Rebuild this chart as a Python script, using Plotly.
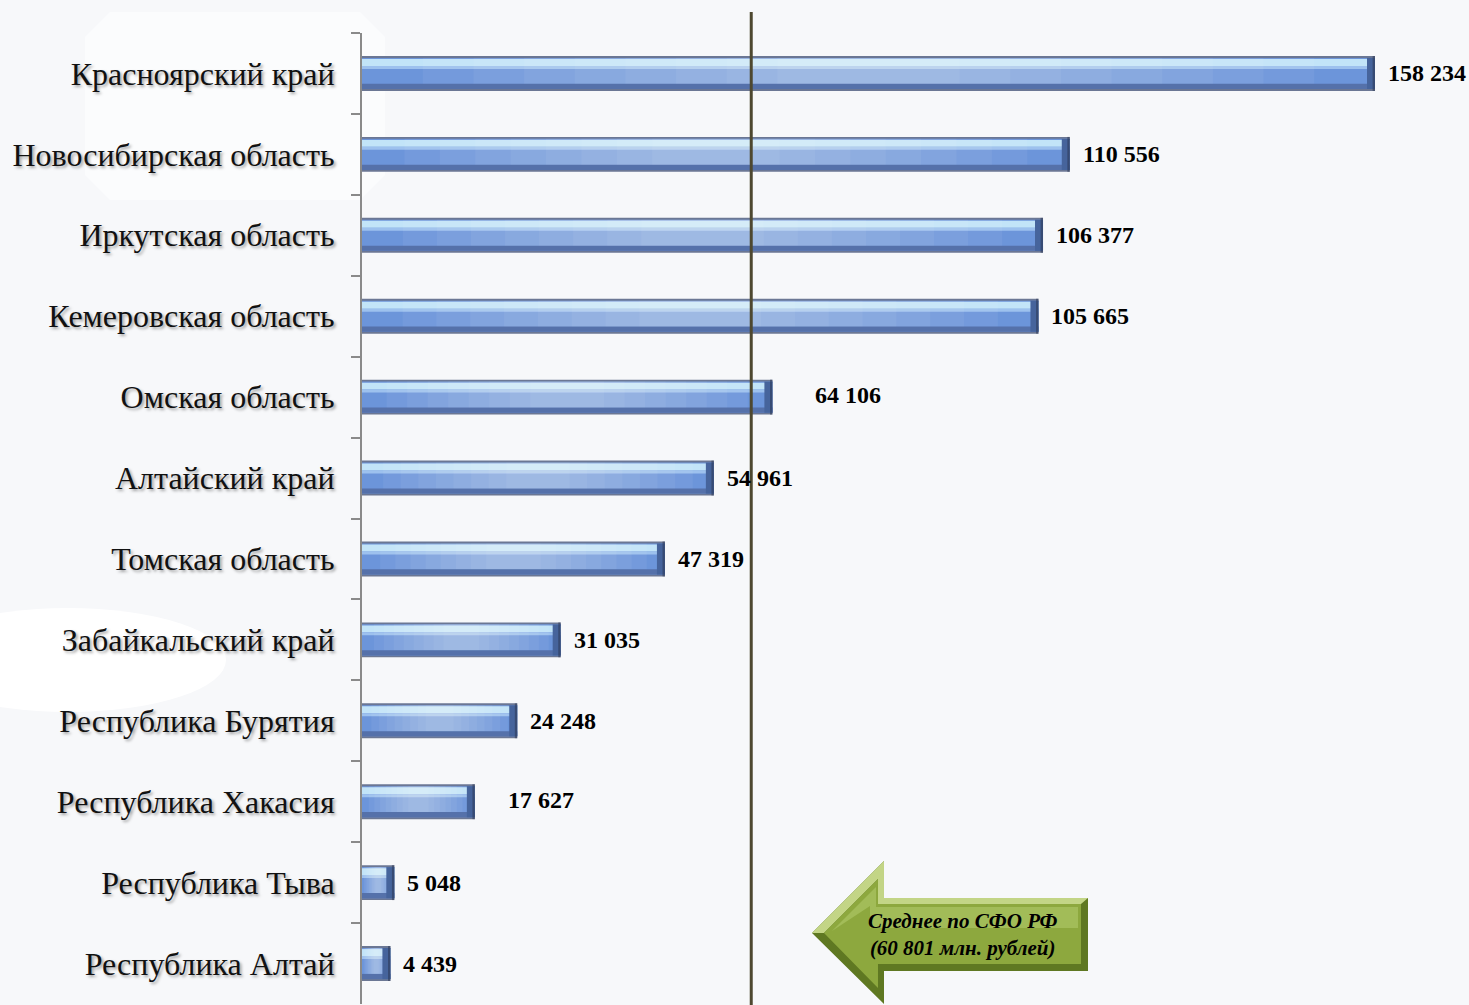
import plotly.graph_objects as go

regions = ["Красноярский край", "Новосибирская область", "Иркутская область",
           "Кемеровская область", "Омская область", "Алтайский край",
           "Томская область", "Забайкальский край", "Республика Бурятия",
           "Республика Хакасия", "Республика Тыва", "Республика Алтай"]
values = [158234, 110556, 106377, 105665, 64106, 54961,
          47319, 31035, 24248, 17627, 5048, 4439]
value_labels = ["158 234", "110 556", "106 377", "105 665", "64 106", "54 961",
                "47 319", "31 035", "24 248", "17 627", "5 048", "4 439"]
mean_value = 60801
mean_text = "Среднее по СФО РФ<br>(60 801 млн. рублей)"

# layout geometry (pixels)
W, H = 1469, 1005
ML, MR, MT, MB = 362, 0, 33, 1
PW, PH = W - ML - MR, H - MT - MB
XMAX = PW / (1013 / 158234)
BG = "#F7F8FA"
FONT = "Liberation Serif"
CAP = 8 * XMAX / PW  # width of the dark bevel at bar ends (about 8 px)

def px(x):
    return (x - ML) / PW

def py(y):
    return (H - MB - y) / PH

fig = go.Figure()

def bar_layer(offset, width, color, xs=None, bases=None):
    fig.add_trace(go.Bar(
        y=regions, x=xs if xs is not None else values, base=bases,
        orientation="h", offset=offset, width=width,
        marker=dict(color=color, line=dict(width=0)),
        hoverinfo="skip", showlegend=False,
    ))

# vertical profile of the glossy bar (layers drawn in order)
bar_layer(-0.216, 0.432, "#6B7794")            # outer edge
bar_layer(-0.192, 0.384, "#6C95DA")            # body
bar_layer(-0.179, 0.086, "#C2E4F8")            # upper highlight
bar_layer(-0.093, 0.037, "#9DC1EE")            # transition
bar_layer(0.128, 0.064, "#5571AA")             # lower shade
# soft horizontal glare in the middle of each bar
glare_steps = [(0.06 + 0.05 * i, 0.94 - 0.05 * i) for i in range(8)]
for a, b in glare_steps:
    bar_layer(-0.192, 0.32, "rgba(255,255,255,0.055)",
              xs=[v * (b - a) for v in values], bases=[v * a for v in values])
# dark bevel at the right end
bar_layer(-0.192, 0.384, "#46649C",
          xs=[min(CAP, v) for v in values], bases=[max(0, v - CAP) for v in values])
bar_layer(-0.216, 0.432, "rgba(40,50,75,0.5)",
          xs=[CAP * 0.3 for v in values], bases=[v - CAP * 0.3 for v in values])

# value labels
label_gap = {"Омская область": 41, "Республика Хакасия": 31}
annotations = []
for r, v, t in zip(regions, values, value_labels):
    annotations.append(dict(
        x=v, y=r, xref="x", yref="y", text=t, showarrow=False,
        xanchor="left", yanchor="middle", xshift=label_gap.get(r, 11),
        yshift=(2 if r in label_gap else 0),
        font=dict(family=FONT, size=24, color="#000000", weight="bold"),
    ))

annotations.append(dict(
    x=px(962), y=py(934), xref="paper", yref="paper", text=mean_text,
    showarrow=False, xanchor="center", yanchor="middle",
    font=dict(family=FONT, size=21, color="#000000", weight="bold", style="italic"),
))

def path(points):
    return "M " + " L ".join(f"{px(x):.5f},{py(y):.5f}" for x, y in points) + " Z"

shapes = [
    # soft white background blobs
    dict(type="path", xref="paper", yref="paper", layer="below",
         path=path([(110, 12), (360, 12), (385, 37), (385, 175), (360, 200),
                    (110, 200), (85, 175), (85, 37)]),
         fillcolor="#FBFCFD", line=dict(width=0)),
    dict(type="circle", xref="paper", yref="paper", layer="below",
         x0=px(-90), x1=px(226), y0=py(712), y1=py(608),
         fillcolor="#FFFFFF", line=dict(width=0)),
    # mean line
    dict(type="line", xref="x", yref="paper", x0=mean_value, x1=mean_value,
         y0=py(1006), y1=py(12), line=dict(color="#4E4830", width=3), layer="above"),
    # arrow: dark rim, light bevel, face
    dict(type="path", xref="paper", yref="paper", layer="above",
         path=path([(812, 933), (884, 861), (884, 898), (1088, 898), (1088, 971),
                    (884, 971), (884, 1004)]),
         fillcolor="#5F7822", line=dict(width=0)),
    dict(type="path", xref="paper", yref="paper", layer="above",
         path=path([(812, 933), (884, 861), (884, 898), (1088, 898), (1081, 904),
                    (878, 904), (878, 879), (824, 933)]),
         fillcolor="#C3D586", line=dict(width=0)),
    dict(type="path", xref="paper", yref="paper", layer="above",
         path=path([(824, 933), (878, 879), (878, 904), (1081, 904), (1081, 964),
                    (878, 964), (878, 988)]),
         fillcolor="#8DA83E", line=dict(width=0)),
    dict(type="path", xref="paper", yref="paper", layer="above",
         path=path([(832, 931), (876, 887), (876, 907), (1078, 907), (1078, 928),
                    (870, 928), (870, 906)]),
         fillcolor="#A2BC58", line=dict(width=0)),
]

fig.update_layout(
    width=W, height=H,
    margin=dict(l=ML, r=MR, t=MT, b=MB),
    paper_bgcolor=BG, plot_bgcolor="rgba(0,0,0,0)",
    barmode="overlay",
    showlegend=False,
    xaxis=dict(range=[0, XMAX], visible=False, fixedrange=True),
    yaxis=dict(
        autorange="reversed", type="category", fixedrange=True,
        showline=True, linecolor="#8A8A8A", linewidth=2,
        ticks="outside", tickson="boundaries", ticklen=9, tickcolor="#8A8A8A",
        tickwidth=1.5, ticklabelstandoff=19, showgrid=False,
        tickfont=dict(family=FONT, size=32, color="#111111",
                      shadow="2px 2px 3px rgba(0,0,0,0.35)"),
    ),
    annotations=annotations,
    shapes=shapes,
)

fig.write_html(
    "out.html",
    config={"displayModeBar": False},
    post_script="document.body.style.margin='0px';"
                "document.body.style.background='#F7F8FA';",
)
